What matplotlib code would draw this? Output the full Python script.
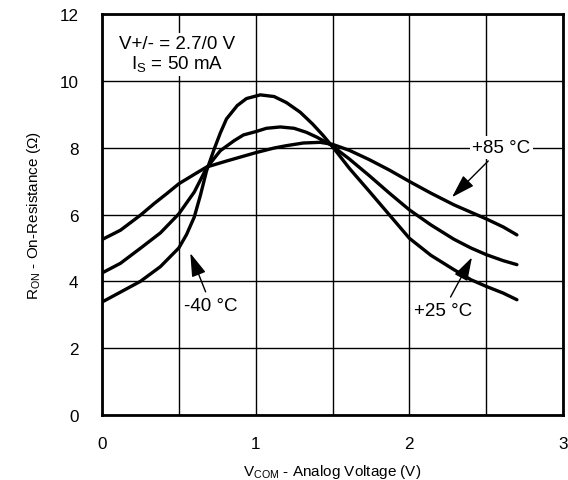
import matplotlib.pyplot as plt

plt.rcParams['font.family'] = ['Liberation Sans', 'DejaVu Sans']
plt.rcParams['mathtext.fontset'] = 'custom'
plt.rcParams['mathtext.rm'] = 'Liberation Sans'

# V_COM (V) and R_ON (ohm)
v_85 = [0.0, 0.12, 0.25, 0.34, 0.42, 0.5, 0.6, 0.68, 0.81, 1.0, 1.12, 1.2, 1.31,
        1.42, 1.5, 1.61, 1.74, 1.87, 2.0, 2.14, 2.29, 2.4, 2.5, 2.61, 2.7]
r_85 = [5.25, 5.53, 5.98, 6.33, 6.62, 6.92, 7.2, 7.42, 7.6, 7.85, 7.99, 8.06, 8.14,
        8.16, 8.1, 7.92, 7.64, 7.33, 6.99, 6.64, 6.29, 6.07, 5.87, 5.63, 5.39]

v_25 = [0.0, 0.12, 0.25, 0.38, 0.5, 0.6, 0.68, 0.77, 0.86, 0.92, 1.0, 1.07, 1.16,
        1.25, 1.33, 1.4, 1.49, 1.61, 1.74, 1.87, 2.0, 2.14, 2.29, 2.4, 2.5, 2.61, 2.7]
r_25 = [4.25, 4.54, 4.99, 5.45, 6.02, 6.67, 7.39, 7.91, 8.21, 8.38, 8.48, 8.58, 8.62,
        8.58, 8.46, 8.31, 8.08, 7.66, 7.16, 6.64, 6.14, 5.69, 5.26, 5.0, 4.8, 4.62, 4.5]

v_m40 = [0.0, 0.25, 0.38, 0.5, 0.55, 0.6, 0.64, 0.68, 0.73, 0.77, 0.81, 0.88, 0.94,
         1.03, 1.12, 1.2, 1.29, 1.37, 1.44, 1.5, 1.61, 1.74, 1.87, 2.0, 2.14, 2.29,
         2.4, 2.5, 2.61, 2.7]
r_m40 = [3.38, 4.0, 4.44, 5.0, 5.4, 5.92, 6.57, 7.3, 7.96, 8.44, 8.86, 9.26, 9.47,
         9.58, 9.53, 9.35, 9.06, 8.71, 8.36, 8.03, 7.38, 6.69, 5.99, 5.29, 4.78, 4.35,
         4.05, 3.85, 3.65, 3.45]

fig = plt.figure(figsize=(5.68, 4.81), dpi=100)
ax = fig.add_axes([0.1796, 0.1351, 0.8116, 0.8337])

for v, r in [(v_85, r_85), (v_25, r_25), (v_m40, r_m40)]:
    ax.plot(v, r, color='black', lw=2.4, solid_capstyle='round',
            solid_joinstyle='round', zorder=3)

ax.set_xlim(0, 3)
ax.set_ylim(0, 12)
ax.set_xticks([0, 1, 2, 3])
ax.set_xticks([0.5, 1.5, 2.5], minor=True)
ax.set_yticks(range(0, 13, 2))
ax.grid(which='both', color='black', lw=1.0)
ax.set_axisbelow(True)
ax.tick_params(which='both', length=0, labelsize=12.3)
ax.tick_params(axis='x', pad=15)
ax.tick_params(axis='y', pad=17)
for s in ax.spines.values():
    s.set_linewidth(2.0)

ax.set_xlabel(r'$\mathregular{V_{COM}}$ - Analog Voltage (V)', fontsize=11, labelpad=8)
ax.set_ylabel(r'$\mathregular{R_{ON}}$ - On-Resistance ($\Omega$)', fontsize=11, labelpad=12)

box = dict(facecolor='white', edgecolor='none', pad=2)
ax.text(0.486, 10.8, 'V+/- = 2.7/0 V\n' + r'$\mathregular{I_S}$ = 50 mA', fontsize=13.5,
        ha='center', va='center', linespacing=1.1, bbox=box, zorder=4)

arrow = dict(arrowstyle='-|>,head_length=0.8,head_width=0.25', color='black', lw=1.0,
             mutation_scale=18)
ax.annotate('+85 °C', xy=(2.265, 6.46), xytext=(2.6, 8.0), fontsize=13.5,
            ha='center', va='center', bbox=box, arrowprops=arrow, zorder=4)
ax.annotate('+25 °C', xy=(2.416, 4.79), xytext=(2.22, 3.12), fontsize=13.5,
            ha='center', va='center', arrowprops=arrow, zorder=4)
ax.annotate('-40 °C', xy=(0.568, 4.92), xytext=(0.71, 3.27), fontsize=13.5,
            ha='center', va='center', bbox=box, arrowprops=arrow, zorder=4)

fig.savefig('out.png', dpi=100)
